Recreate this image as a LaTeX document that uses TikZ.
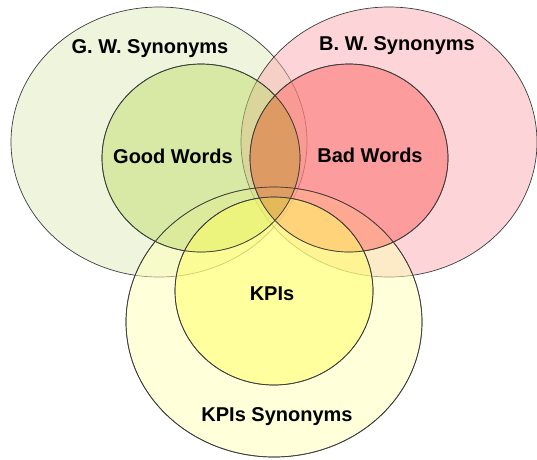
\documentclass[tikz,border=0pt]{standalone}
\usepackage{fontspec}
\setmainfont{Liberation Sans}
\usetikzlibrary{shapes.geometric}
\definecolor{gOut}{RGB}{223,235,187}
\definecolor{gIn}{RGB}{193,219,111}
\definecolor{rOut}{RGB}{251,171,177}
\definecolor{rIn}{RGB}{255,101,98}
\definecolor{yOut}{RGB}{255,255,181}
\definecolor{yIn}{RGB}{255,255,98}
\definecolor{tint}{RGB}{200,150,60}
\definecolor{edge}{RGB}{60,60,60}
\tikzset{
  outerset/.style={ellipse, draw=edge, line width=0.7pt, fill opacity=0.5, draw opacity=1, inner sep=0pt, minimum width=296pt, minimum height=270pt},
  innerset/.style={ellipse, draw=edge, line width=0.7pt, fill opacity=0.5, draw opacity=1, inner sep=0pt, minimum width=198pt, minimum height=188pt},
  lbl/.style={font=\fontsize{20}{24}\selectfont\bfseries, text=black, inner sep=0pt}
}
\begin{document}
\begin{tikzpicture}[x=1pt, y=-1pt]
\useasboundingbox (0,0) rectangle (537,459);
\node[outerset, fill=gOut] (gws) at (159,142) {};
\node[outerset, fill=rOut] (bws) at (389,142) {};
\node[outerset, fill=yOut] (kws) at (274,322) {};
\node[innerset, fill=gIn] (gw) at (201,158) {};
\node[innerset, fill=rIn] (bw) at (349,158) {};
\node[innerset, fill=yIn] (kpi) at (274,291) {};
% warmer tint where Good Words and Bad Words overlap
\begin{scope}
  \clip (201,158) ellipse [x radius=99pt, y radius=94pt];
  \fill[tint, fill opacity=0.4] (349,158) ellipse [x radius=99pt, y radius=94pt];
\end{scope}
% redraw outlines on top of the tint
\draw[edge, line width=0.7pt] (201,158) ellipse [x radius=99pt, y radius=94pt];
\draw[edge, line width=0.7pt] (349,158) ellipse [x radius=99pt, y radius=94pt];
\draw[edge, line width=0.7pt] (274,291) ellipse [x radius=99pt, y radius=94pt];
\draw[edge, line width=0.7pt] (274,322) ellipse [x radius=148pt, y radius=135pt];
\node[lbl] (tgws) at (150,49) {G. W. Synonyms};
\node[lbl] (tbws) at (397,46) {B. W. Synonyms};
\node[lbl] (tgw) at (173,156) {Good Words};
\node[lbl] (tbw) at (370,155) {Bad Words};
\node[lbl] (tkpi) at (272,294) {KPIs};
\node[lbl] (tkws) at (277,417) {KPIs Synonyms};
\end{tikzpicture}
\end{document}
